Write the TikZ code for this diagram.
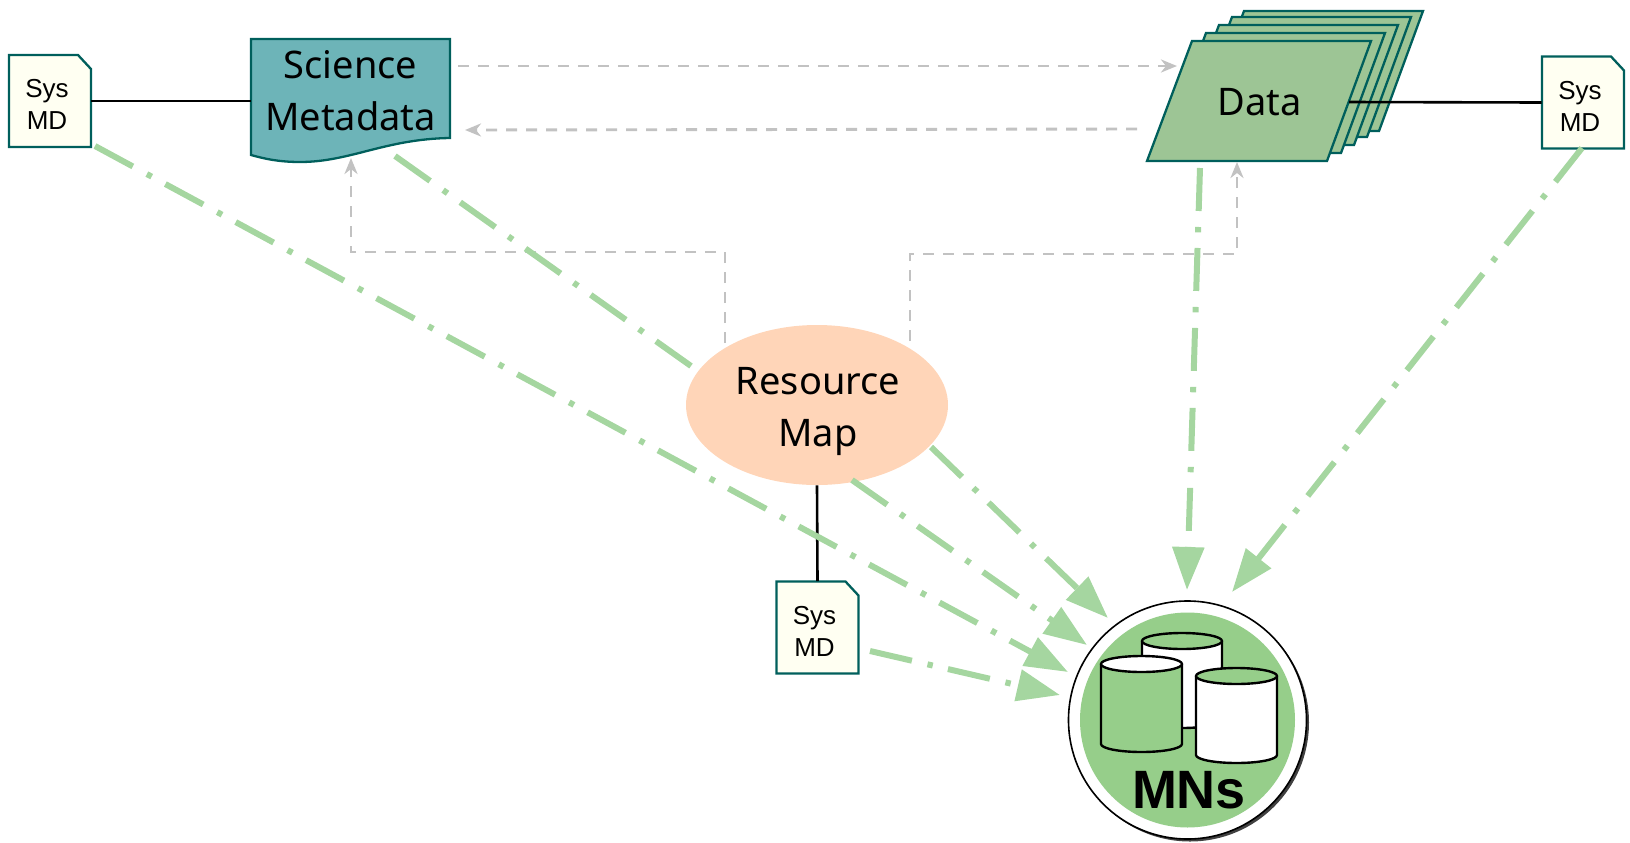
\documentclass[tikz,border=0pt]{standalone}
\usepackage{fontspec}
\setmainfont{Noto Sans}
\newfontfamily\arialf{Liberation Sans}
\usetikzlibrary{arrows.meta,calc,shapes.geometric}
\definecolor{edge}{HTML}{005F5C}
\definecolor{smfill}{HTML}{6DB4B8}
\definecolor{datafill}{HTML}{9DC595}
\definecolor{docfill}{HTML}{FFFFF2}
\definecolor{rmfill}{HTML}{FFD5B8}
\definecolor{mngreen}{HTML}{96CE8A}
\definecolor{flowgreen}{HTML}{A5D6A0}
\definecolor{refgray}{HTML}{C2C2C2}
\tikzset{
  shapeline/.style={draw=edge,line width=1.15pt,line join=miter},
  labeltext/.style={inner sep=0pt,align=center,font=\fontsize{19}{26}\selectfont},
  sysbox/.style={inner sep=0pt,minimum width=41pt,minimum height=46pt},
  systext/.style={inner sep=0pt,align=center,font=\arialf\fontsize{13}{16}\selectfont},
  tie/.style={draw=black,line width=1.3pt},
  flow/.style={draw=flowgreen,line width=3pt,dash pattern=on 21.5pt off 8pt on 2.7pt off 7.8pt},
  flowtip/.style={flow,-{Triangle[length=21.5pt,width=15.5pt]}},
  ref/.style={draw=refgray,line width=1.45pt,dash pattern=on 5.5pt off 4.5pt,-{Stealth[length=8pt,width=6.5pt,inset=2.5pt]}},
  cylline/.style={draw=black,line width=1.2pt,line join=round},
}
\newcommand{\sysdoc}[3]{%
  \draw[shapeline,fill=docfill] (#2-41,#3-46) -- (#2+28,#3-46) -- (#2+41,#3-32) -- (#2+41,#3+46) -- (#2-41,#3+46) -- cycle;
  \node[sysbox] (#1) at (#2,#3) {};
  \node[systext] (#1text) at (#2-3,#3+3.5) {Sys\\MD};}
\newcommand{\datasheet}[2]{%
  \draw[shapeline,fill=datafill] (1192+#1,41+#2) -- (1371+#1,41+#2) -- (1327+#1,161+#2) -- (1147+#1,161+#2) -- cycle;}
\newcommand{\drum}[7]{% left right top sideend ry body top
  \draw[cylline,fill=#6] (#1,#3) -- (#1,#4) arc[start angle=180,end angle=0,x radius={(#2-#1)/2},y radius=#5] -- (#2,#3) -- cycle;
  \draw[cylline,fill=#7] ({(#1+#2)/2},#3) ellipse[x radius={(#2-#1)/2},y radius=#5];}
\begin{document}
\begin{tikzpicture}[x=0.5pt,y=-0.5pt]
\useasboundingbox (0,0) rectangle (1630,842);
% MN badge
\fill[black!75] (1190,722.5) circle[radius=119];
\node[circle,draw=black,line width=0.8pt,fill=white,minimum size=119pt,inner sep=0pt] (mn) at (1187.5,720) {};
\fill[mngreen] (mn.center) circle[radius=107.5];
\drum{1142}{1222}{641}{720}{8}{white}{mngreen}
\drum{1101}{1182}{664}{744}{8}{mngreen}{white}
\drum{1196}{1277}{676}{755}{8}{white}{mngreen}
\node[inner sep=0pt,font=\arialf\bfseries\fontsize{27}{30}\selectfont] (mnlabel) at (1189,790) {MNs};
% Science metadata
\draw[shapeline,fill=smfill] (251,39) -- (450,39) -- (450,138) .. controls (385,139) and (350,162) .. (300,162) .. controls (280,162) and (265,159) .. (251,155) -- cycle;
\node[labeltext,minimum width=99.5pt,minimum height=58pt] (sm) at (350.5,91) {Science\\Metadata};
% Data
\datasheet{52}{-30}
\datasheet{40}{-24}
\datasheet{27}{-16}
\datasheet{14}{-8}
\datasheet{0}{0}
\node[labeltext,minimum width=89pt,minimum height=60pt] (data) at (1259.5,102) {Data};
% Resource map
\node[ellipse,fill=rmfill,minimum width=131pt,minimum height=80pt,inner sep=0pt] (rm) at (817,405) {};
\node[labeltext] (rmtext) at (818,411) {Resource\\Map};
% Sys MD
\sysdoc{sysA}{50}{101}
\sysdoc{sysB}{817.5}{627.5}
\sysdoc{sysC}{1583}{102.5}
% Free ends
\coordinate (smOut) at (458,66);
\coordinate (dataIn) at (1177,66);
\coordinate (dataOut) at (1137,129);
\coordinate (smIn) at (465,130);
\coordinate (rmL) at (725,343);
\coordinate (rmLa) at (725,252);
\coordinate (smBot) at (351,158);
\coordinate (rmR) at (910,341);
\coordinate (rmRa) at (910,254);
\coordinate (dataBot) at (1237,162);
\coordinate (fA) at (95,146);
\coordinate (tA) at (1068,672);
\coordinate (fB) at (870,651);
\coordinate (tB) at (1060,695);
\coordinate (fC) at (852,480);
\coordinate (tC) at (1087,645);
\coordinate (fD) at (931,447);
\coordinate (tD) at (1108,618);
\coordinate (fE) at (1200,168);
\coordinate (tE) at (1187,590);
\coordinate (fF) at (1582,148);
\coordinate (tF) at (1232,592);
\coordinate (fG) at (395,156);
\coordinate (tG) at (691,366);
% Ties
\draw[tie] (sysA.east) -- (sysA.east -| sm.west);
\draw[tie] (data.east) -- (sysC.west);
\draw[tie] (rm.south) -- (sysB.north);
% References
\draw[ref] (smOut) -- (dataIn);
\draw[ref] (dataOut) -- (smIn);
\draw[ref] (rmL) -- (rmLa) -- (rmLa -| smBot) -- (smBot);
\draw[ref] (rmR) -- (rmRa) -- (rmRa -| dataBot) -- (dataBot);
% Flows
\draw[flow] (fG) -- (tG);
\draw[flowtip] (fA) -- (tA);
\draw[flowtip] (fB) -- (tB);
\draw[flowtip] (fC) -- (tC);
\draw[flowtip] (fD) -- (tD);
\draw[flowtip] (fE) -- (tE);
\draw[flowtip] (fF) -- (tF);
\end{tikzpicture}
\end{document}
